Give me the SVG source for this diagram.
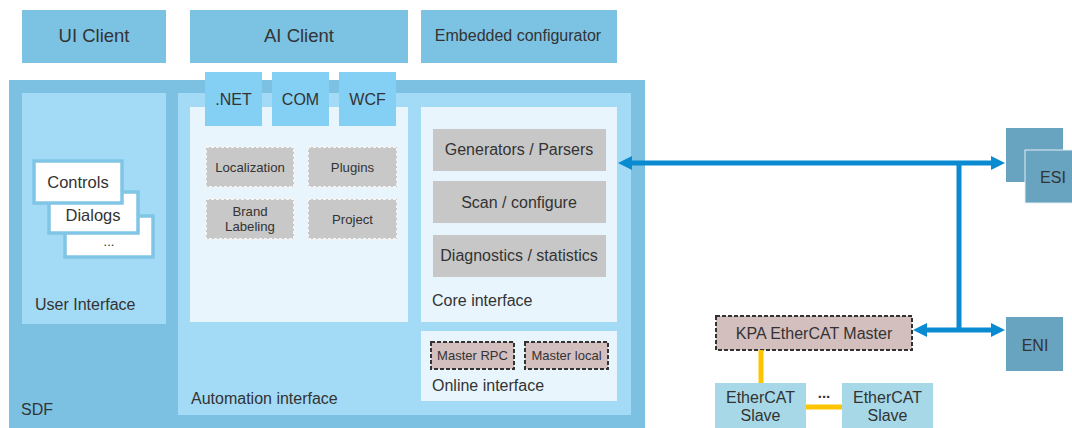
<svg xmlns="http://www.w3.org/2000/svg" width="1072" height="428" viewBox="0 0 1072 428">
<defs>
<style>
text{font-family:"Liberation Sans",Arial,sans-serif;fill:#333;}
.c{text-anchor:middle;}
.client{fill:#7cc2e3;}
.sdf{fill:#7cc1e1;}
.panel{fill:#a3daf5;}
.inner{fill:#e8f5fd;}
.api{fill:#84cff4;}
.gray{fill:#c7c7c7;}
.grayd{fill:#c8c8c8;stroke:#f4f4f4;stroke-width:2;stroke-dasharray:3 2;}
.pink{fill:#d4bfbf;stroke:#333;stroke-width:2;stroke-dasharray:4 2;}
.card{fill:#fff;stroke:#80c5e6;stroke-width:3.5;}
.file{fill:#68a3c0;}
.slave{fill:#a6d8e8;}
.blue{stroke:#0a8ad1;stroke-width:5;fill:none;}
.yel{stroke:#fcc500;stroke-width:5;fill:none;}
</style>
<marker id="ah" markerUnits="userSpaceOnUse" markerWidth="14" markerHeight="14" viewBox="0 0 14 14" refX="2" refY="7" orient="auto-start-reverse">
<path d="M0,0 L14,7 L0,14 z" fill="#0a8ad1"/>
</marker>
</defs>

<g id="ui-client"><rect class="client" x="22" y="10" width="144" height="53"/><text class="c" x="94" y="42" font-size="18.5">UI Client</text></g>
<g id="ai-client"><rect class="client" x="190" y="10" width="218" height="53"/><text class="c" x="299" y="42" font-size="18.5">AI Client</text></g>
<g id="embedded-configurator"><rect class="client" x="421" y="10" width="196" height="53"/><text class="c" x="518" y="41" font-size="16">Embedded configurator</text></g>

<g id="sdf"><rect class="sdf" x="9" y="80" width="636" height="348"/><text x="21" y="415" font-size="16">SDF</text></g>

<g id="user-interface">
<rect class="panel" x="22" y="93" width="144" height="231"/>
<text x="35" y="310" font-size="16">User Interface</text>
<rect class="card" x="65" y="216" width="88" height="41"/>
<text class="c" x="109" y="246" font-size="13">...</text>
<rect class="card" x="49" y="192" width="89" height="41"/>
<text class="c" x="93" y="221" font-size="16.5">Dialogs</text>
<rect class="card" x="34" y="161" width="88" height="42"/>
<text class="c" x="78" y="188" font-size="16.5">Controls</text>
</g>

<g id="automation-interface">
<rect class="panel" x="178" y="93" width="453" height="322"/>
<text x="191" y="404" font-size="16">Automation interface</text>
<rect class="inner" x="190" y="107" width="218" height="215"/>
</g>

<g id="net"><rect class="api" x="205" y="72" width="57" height="54"/><text class="c" x="233.5" y="105" font-size="16">.NET</text></g>
<g id="com"><rect class="api" x="272" y="72" width="57" height="54"/><text class="c" x="300.5" y="105" font-size="16">COM</text></g>
<g id="wcf"><rect class="api" x="339" y="72" width="57" height="54"/><text class="c" x="367.5" y="105" font-size="16">WCF</text></g>

<g id="localization"><rect class="grayd" x="206" y="147" width="88" height="40"/><text class="c" x="250" y="172" font-size="13.2">Localization</text></g>
<g id="plugins"><rect class="grayd" x="308" y="147" width="89" height="40"/><text class="c" x="352.5" y="172" font-size="13.2">Plugins</text></g>
<g id="brand-labeling"><rect class="grayd" x="206" y="199" width="88" height="40"/><text class="c" x="250" y="216" font-size="13.2">Brand</text><text class="c" x="250" y="231" font-size="13.2">Labeling</text></g>
<g id="project"><rect class="grayd" x="308" y="199" width="89" height="40"/><text class="c" x="352.5" y="224" font-size="13.2">Project</text></g>

<g id="core-interface">
<rect class="inner" x="421" y="107" width="196" height="215"/>
<text x="432" y="306" font-size="16">Core interface</text>
</g>
<g id="generators-parsers"><rect class="gray" x="433" y="129" width="173" height="42"/><text class="c" x="519" y="155" font-size="16">Generators / Parsers</text></g>
<g id="scan-configure"><rect class="gray" x="433" y="181" width="173" height="42"/><text class="c" x="519" y="208" font-size="16">Scan / configure</text></g>
<g id="diagnostics-statistics"><rect class="gray" x="433" y="235" width="173" height="42"/><text class="c" x="519" y="261" font-size="16">Diagnostics / statistics</text></g>

<g id="online-interface">
<rect class="inner" x="421" y="331" width="196" height="70"/>
<text x="432" y="391" font-size="16">Online interface</text>
</g>
<g id="master-rpc"><rect class="pink" x="431" y="342" width="83" height="27"/><text class="c" x="472.5" y="360" font-size="13">Master RPC</text></g>
<g id="master-local"><rect class="pink" x="525" y="342" width="83" height="27"/><text class="c" x="566.5" y="360" font-size="13">Master local</text></g>

<g id="esi">
<rect class="file" x="1006" y="128" width="57" height="54"/>
<rect class="file" x="1025" y="150" width="48" height="53" stroke="#e4eef3" stroke-width="1"/>
<text class="c" x="1053" y="183" font-size="16">ESI</text>
</g>
<g id="eni"><rect class="file" x="1006" y="317" width="57" height="54"/><text class="c" x="1035" y="351" font-size="16">ENI</text></g>

<g id="kpa-master"><rect class="pink" x="716" y="316" width="196" height="34"/><text class="c" x="814" y="339" font-size="16">KPA EtherCAT Master</text></g>
<g id="slave-1"><rect class="slave" x="715" y="383" width="91" height="45"/><text class="c" x="760.5" y="403" font-size="16">EtherCAT</text><text class="c" x="760.5" y="421" font-size="16">Slave</text></g>
<g id="slave-2"><rect class="slave" x="842" y="383" width="91" height="45"/><text class="c" x="887.5" y="403" font-size="16">EtherCAT</text><text class="c" x="887.5" y="421" font-size="16">Slave</text></g>

<g id="connectors">
<line class="blue" x1="630" y1="163" x2="993" y2="163" marker-start="url(#ah)" marker-end="url(#ah)"/>
<line class="blue" x1="959" y1="163" x2="959" y2="332"/>
<line class="blue" x1="925" y1="330" x2="993" y2="330" marker-start="url(#ah)" marker-end="url(#ah)"/>
<line class="yel" x1="761" y1="350" x2="761" y2="383"/>
<line class="yel" x1="806" y1="407" x2="842" y2="407"/>
<text class="c" x="824" y="398" font-size="15" font-weight="bold">...</text>
</g>
</svg>
